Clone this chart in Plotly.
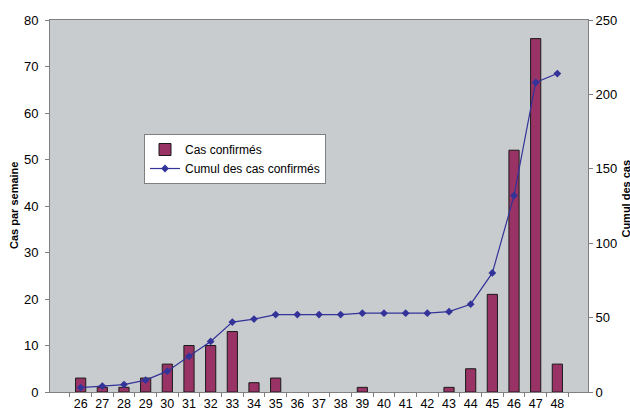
import plotly.graph_objects as go

weeks = [str(w) for w in range(26, 49)]
cas_confirmes = [3, 1, 1, 3, 6, 10, 10, 13, 2, 3, 0, 0, 0, 1, 0, 0, 0, 1, 5, 21, 52, 76, 6]
cumul = [3, 4, 5, 8, 14, 24, 34, 47, 49, 52, 52, 52, 52, 53, 53, 53, 53, 54, 59, 80, 132, 208, 214]
y_ticks_left = [0, 10, 20, 30, 40, 50, 60, 70, 80]
y_ticks_right = [0, 50, 100, 150, 200, 250]

FONT = "Liberation Sans"

fig = go.Figure()
fig.add_trace(go.Bar(
    x=weeks, y=cas_confirmes, name="Cas confirmés",
    marker=dict(color="#993366",
                line=dict(color="#1a1a1a", width=[1 if v > 0 else 0 for v in cas_confirmes])),
    yaxis="y",
))
fig.add_trace(go.Scatter(
    x=weeks, y=cumul, name="Cumul des cas confirmés",
    mode="lines+markers",
    line=dict(color="#333399", width=1.2),
    marker=dict(symbol="diamond", size=6, color="#333399"),
    yaxis="y2",
))

fig.update_layout(
    width=630, height=412,
    margin=dict(l=50, r=42, t=20, b=20),
    paper_bgcolor="white",
    plot_bgcolor="#C9CCCE",
    font=dict(family=FONT, size=12, color="black"),
    bargap=0.53,
    showlegend=True,
    legend=dict(
        x=(144 - 50) / 538, y=(392 - 134) / 372, xanchor="left", yanchor="top",
        bgcolor="white", bordercolor="#808080", borderwidth=1,
        font=dict(family=FONT, size=12),
        tracegroupgap=0, itemwidth=30,
    ),
    xaxis=dict(
        type="category", showgrid=False, showline=True, linecolor="#808080",
        mirror=True, ticks="outside", ticklen=4, tickcolor="#808080",
        tickson="boundaries", tickfont=dict(size=12.5), tickangle=0,
        automargin=False,
    ),
    yaxis=dict(
        range=[0, 80], tickvals=y_ticks_left, showgrid=False, zeroline=False,
        showline=True, linecolor="#808080", ticks="outside", ticklen=4,
        tickcolor="#808080", tickfont=dict(size=13), automargin=False,
        ticklabelstandoff=4,
    ),
    yaxis2=dict(
        range=[0, 250], tickvals=y_ticks_right, overlaying="y", side="right",
        showgrid=False, zeroline=False, showline=True, linecolor="#808080",
        ticks="outside", ticklen=4, tickcolor="#808080",
        tickfont=dict(size=13), automargin=False,
    ),
    annotations=[
        dict(text="<b>Cas par semaine</b>", textangle=-90, xref="paper", yref="paper",
             x=(14 - 50) / 538, y=0.5, showarrow=False, font=dict(size=11),
             xanchor="center", yanchor="middle"),
        dict(text="<b>Cumul des cas</b>", textangle=-90, xref="paper", yref="paper",
             x=(626 - 50) / 538, y=0.52, showarrow=False, font=dict(size=11),
             xanchor="center", yanchor="middle"),
    ],
)

fig.write_html("out.html", config={"displayModeBar": False},
               post_script="document.body.style.margin='0';")
